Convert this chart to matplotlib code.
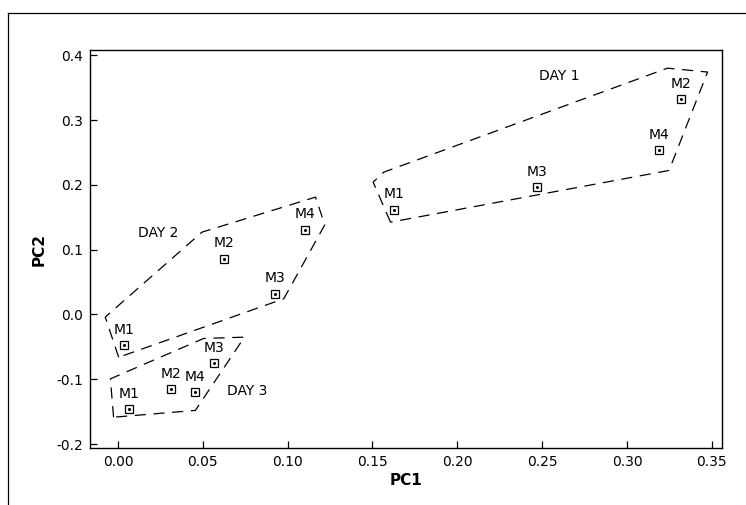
import matplotlib
matplotlib.use("Agg")
import matplotlib.pyplot as plt
from matplotlib.lines import Line2D

plt.rcParams['font.family'] = ['DejaVu Sans']
plt.rcParams['lines.scale_dashes'] = False

# PCA scores per day (PC1, PC2)
labels = ["M1", "M2", "M3", "M4"]
day1_pc1 = [0.1626, 0.3317, 0.2472, 0.3186]
day1_pc2 = [0.1616, 0.3318, 0.1965, 0.2531]
day2_pc1 = [0.0037, 0.0627, 0.0928, 0.1100]
day2_pc2 = [-0.0478, 0.0859, 0.0319, 0.1310]
day3_pc1 = [0.0063, 0.0315, 0.0568, 0.0456]
day3_pc2 = [-0.1456, -0.1157, -0.0751, -0.1199]

# dashed group outlines
hull1_x = [0.1606, 0.1504, 0.1567, 0.3239, 0.3475, 0.3248, 0.1606]
hull1_y = [0.1424, 0.2042, 0.2196, 0.3800, 0.3740, 0.2222, 0.1424]
hull2_x = [0.0004, -0.0075, 0.0495, 0.1164, 0.1219, 0.0977, 0.0004]
hull2_y = [-0.0660, -0.0040, 0.1270, 0.1810, 0.1384, 0.0242, -0.0660]
hull3_x = [-0.0026, -0.0045, 0.0505, 0.0745, 0.0456, -0.0026]
hull3_y = [-0.1585, -0.0993, -0.0370, -0.0350, -0.1480, -0.1585]

day_names = ["DAY 1", "DAY 2", "DAY 3"]
day_label_x = [0.2600, 0.0234, 0.0761]
day_label_y = [0.3673, 0.1260, -0.1183]

fig = plt.figure(figsize=(7.46, 5.05), dpi=100)
ax = fig.add_axes([90 / 746, 1 - 448 / 505, (722 - 90) / 746, (448 - 50) / 505])

for hx, hy in [(hull1_x, hull1_y), (hull2_x, hull2_y), (hull3_x, hull3_y)]:
    ax.plot(hx, hy, color="black", lw=0.9, dashes=(8, 5.5))

for px, py in [(day1_pc1, day1_pc2), (day2_pc1, day2_pc2), (day3_pc1, day3_pc2)]:
    ax.plot(px, py, ls="none", marker="s", ms=6, mfc="white", mec="black", mew=0.9)
    ax.plot(px, py, ls="none", marker="o", ms=1.2, color="black")
    for lab, x, y in zip(labels, px, py):
        ax.annotate(lab, (x, y), xytext=(0, 6), textcoords="offset points",
                    ha="center", va="bottom", fontsize=10)

for name, x, y in zip(day_names, day_label_x, day_label_y):
    ax.text(x, y, name, ha="center", va="center", fontsize=10)

ax.set_xlim(-0.0165, 0.356)
ax.set_ylim(-0.206, 0.408)
ax.set_xticks([0.0, 0.05, 0.10, 0.15, 0.20, 0.25, 0.30, 0.35])
ax.set_xticklabels(["0.00", "0.05", "0.10", "0.15", "0.20", "0.25", "0.30", "0.35"])
ax.set_yticks([-0.2, -0.1, 0.0, 0.1, 0.2, 0.3, 0.4])
ax.set_yticklabels(["-0.2", "-0.1", "0.0", "0.1", "0.2", "0.3", "0.4"])
ax.tick_params(direction="in", length=5, width=0.9, labelsize=10, pad=5)
ax.set_xlabel("PC1", fontsize=11, fontweight="bold", labelpad=3)
ax.set_ylabel("PC2", fontsize=11, fontweight="bold", labelpad=7)
for s in ax.spines.values():
    s.set_linewidth(1.0)

# partial page frame (top and left edges)
fig.add_artist(Line2D([8 / 746, 8 / 746], [0, 1 - 13 / 505], color="black", lw=0.9))
fig.add_artist(Line2D([8 / 746, 1], [1 - 13 / 505, 1 - 13 / 505], color="black", lw=0.9))

fig.savefig("out.png", dpi=100)
